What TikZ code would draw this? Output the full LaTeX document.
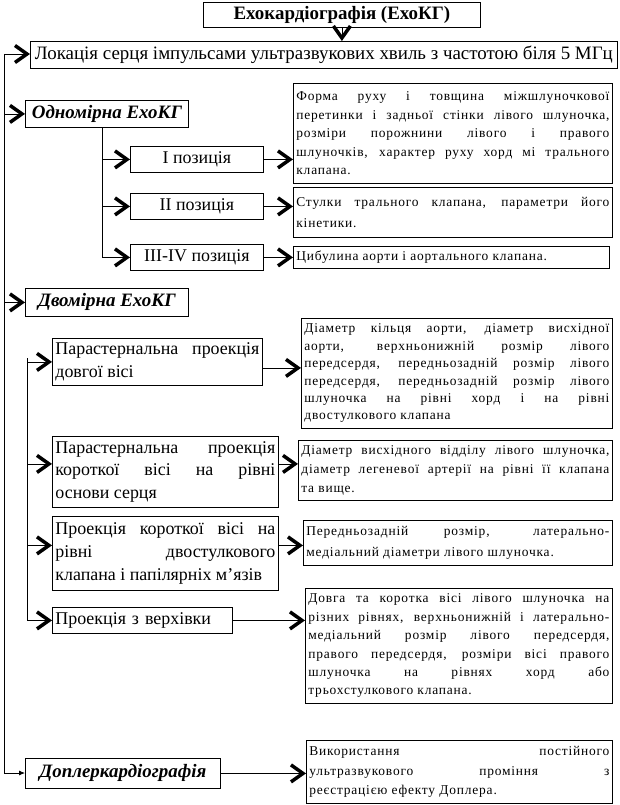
\documentclass[tikz,border=0pt]{standalone}
\usepackage{fontspec}
\setmainfont{Liberation Serif}
\newfontfamily\descfont[LetterSpace=6]{Liberation Serif}
\usetikzlibrary{arrows.meta,positioning}
\tolerance=9999
\hbadness=10000
\hyphenpenalty=10000
\tikzset{
  every node/.style={text=black},
  box/.style={draw=black,line width=0.8bp,inner xsep=3bp,inner ysep=1bp,anchor=north west},
  headbox/.style={box,font=\bfseries\fontsize{19}{22}\selectfont},
  locbox/.style={box,font=\fontsize{19}{22}\selectfont},
  kindbox/.style={box,font=\bfseries\itshape\fontsize{19}{22}\selectfont},
  posbox/.style={box,font=\fontsize{18}{21}\selectfont},
  projbox/.style={box,align=justify,font=\fontsize{18}{23}\selectfont},
  descbox/.style={box,align=justify,font=\descfont\fontsize{13.5}{#1}\selectfont},
  descbox/.default=18,
  link/.style={line width=0.8bp},
  chev/.style={link,-{Straight Barb[length=12bp,width=17bp,line width=3.5bp]}},
  small/.style={link,-{Latex[length=6bp,width=5bp]}}
}
\begin{document}
\begin{tikzpicture}[x=1bp,y=-1bp]
  \useasboundingbox (0,0) rectangle (620,805);
  \node[headbox,minimum width=277bp,minimum height=25bp] (title) at (203,2) {Ехокардіографія (ЕхоКГ)};
  \node[locbox,minimum width=587bp,minimum height=27bp] (loc) at (30,41) {Локація серця імпульсами ультразвукових хвиль з частотою біля 5 МГц};

  % одномірна
  \node[kindbox,minimum width=163bp,minimum height=27bp] (odn) at (25,100) {Одномірна ЕхоКГ};
  \node[posbox,minimum width=133bp,minimum height=26bp] (pos1) at (130,146) {I позиція};
  \node[posbox,minimum width=133bp,minimum height=26bp] (pos2) at (130,193) {II позиція};
  \node[posbox,minimum width=133bp,minimum height=26bp] (pos3) at (130,244) {III-IV позиція};
  \node[descbox=18.5,text width=313bp,minimum height=100bp] (descA) at (293,83) {Форма руху і товщина міжшлуночкової\linebreak перетинки і задньої стінки лівого шлуночка,\linebreak розміри порожнини лівого і правого\linebreak шлуночків, характер руху хорд мі трального\linebreak клапана.};
  \node[descbox=21,text width=313bp,minimum height=50bp] (descB) at (293,187) {Стулки трального клапана, параметри його\linebreak кінетики.};
  \node[descbox,text width=310bp,minimum height=22bp] (descC) at (293,246) {Цибулина аорти і аортального клапана.};

  % двомірна
  \node[kindbox,minimum width=163bp,minimum height=28bp] (dvo) at (25,288) {Двомірна ЕхоКГ};
  \node[projbox,text width=204bp,minimum height=47bp] (proj1) at (52,338) {Парастернальна проекція\linebreak довгої вісі};
  \node[projbox,text width=220bp,minimum height=71bp] (proj2) at (52,436) {Парастернальна проекція\linebreak короткої вісі на рівні\linebreak основи серця};
  \node[projbox,text width=220bp,minimum height=74bp] (proj3) at (52,516) {Проекція короткої вісі на\linebreak рівні двостулкового\linebreak клапана і папілярніх м’язів};
  \node[projbox,align=left,text width=174bp,minimum height=26bp] (proj4) at (52,607) {Проекція з верхівки};
  \node[descbox=17.5,text width=305bp,minimum height=110bp] (descE1) at (301,318) {Діаметр кільця аорти, діаметр висхідної\linebreak аорти, верхньонижній розмір лівого\linebreak передсердя, передньозадній розмір лівого\linebreak передсердя, передньозадній розмір лівого\linebreak шлуночка на рівні хорд і на рівні\linebreak двостулкового клапана};
  \node[descbox=19,text width=308bp,minimum height=60bp] (descE2) at (298,440) {Діаметр висхідного відділу лівого шлуночка,\linebreak діаметр легеневої артерії на рівні її клапана\linebreak та вище.};
  \node[descbox=21,text width=303bp,minimum height=45bp] (descE3) at (303,520) {Передньозадній розмір, латерально-\linebreak медіальний діаметри лівого шлуночка.};
  \node[descbox=18.5,text width=301bp,minimum height=115bp] (descE4) at (305,588) {Довга та коротка вісі лівого шлуночка на\linebreak різних рівнях, верхньонижній і латерально-\linebreak медіальний розмір лівого передсердя,\linebreak правого передсердя, розміри вісі правого\linebreak шлуночка на рівнях хорд або\linebreak трьохстулкового клапана.};

  % доплер
  \node[kindbox,minimum width=195bp,minimum height=30bp] (dop) at (25,758) {Доплеркардіографія};
  \node[descbox=20,text width=300bp,minimum height=63bp] (descE5) at (306,740) {Використання постійного\linebreak ультразвукового проміння з\linebreak реєстрацією ефекту Доплера.};

  \coordinate (trunk) at (4,54);
  \coordinate (trunkend) at (4,773);
  \coordinate (sub1) at (102,127);
  \coordinate (sub1end) at (102,257);
  \coordinate (sub2) at (27,358);
  \coordinate (sub2end) at (27,620);

  \draw[chev] (title.south) -- (title.south |- loc.north);
  \draw[link] (trunk) -- (trunkend);
  \draw[chev] (trunk) -- (trunk -| loc.west);
  \draw[chev] (trunk |- odn.west) -- (odn.west);
  \draw[chev] (trunk |- dvo.west) -- (dvo.west);
  \draw[small] (trunkend) -- (trunkend -| dop.west);

  \draw[link] (sub1) -- (sub1end);
  \foreach \p in {pos1,pos2,pos3}
    \draw[chev] (sub1 |- \p.west) -- (\p.west);
  \draw[chev] (pos1.east) -- (pos1.east -| descA.west);
  \draw[chev] (pos2.east) -- (pos2.east -| descB.west);
  \draw[chev] (pos3.east) -- (pos3.east -| descC.west);

  \draw[link] (sub2) -- (sub2end);
  \draw[chev] (sub2 |- proj1.west) -- (proj1.west);
  \draw[chev] ([yshift=8bp]proj2.west -| sub2) -- ([yshift=8bp]proj2.west);
  \draw[chev] ([yshift=8bp]proj3.west -| sub2) -- ([yshift=8bp]proj3.west);
  \draw[chev] (sub2 |- proj4.west) -- (proj4.west);
  \draw[chev] ([yshift=-6bp]proj1.east) -- ([yshift=-6bp]proj1.east -| descE1.west);
  \draw[chev] ([yshift=8bp]proj2.east) -- ([yshift=8bp]proj2.east -| descE2.west);
  \draw[chev] ([yshift=8bp]proj3.east) -- ([yshift=8bp]proj3.east -| descE3.west);
  \draw[chev] (proj4.east) -- (proj4.east -| descE4.west);
  \draw[chev] (dop.east) -- (dop.east -| descE5.west);
\end{tikzpicture}
\end{document}
